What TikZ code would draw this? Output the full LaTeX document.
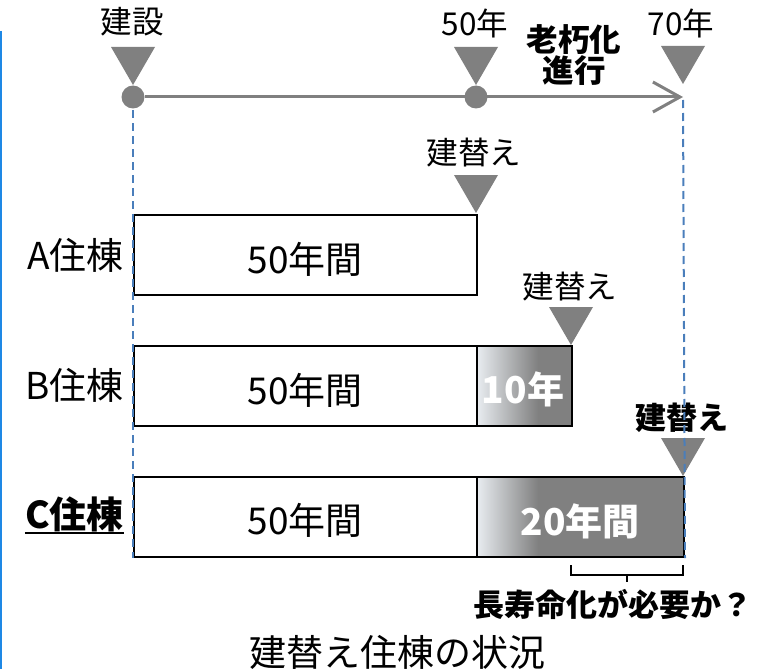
\documentclass[tikz,border=0pt]{standalone}
\usepackage{fontspec}
\setmainfont{Noto Sans CJK JP}
\usetikzlibrary{arrows.meta}
\definecolor{tgray}{RGB}{128,128,128}
\definecolor{gstart}{RGB}{234,238,242}
\definecolor{guide}{RGB}{74,126,187}
\definecolor{edgeblue}{RGB}{30,136,229}
\tikzset{
  lbl/.style={inner sep=0pt, font=\fontsize{31.5}{33}\selectfont},
  lblb/.style={inner sep=0pt, font=\fontsize{31}{33}\selectfont\bfseries},
  big/.style={inner sep=0pt, font=\fontsize{37}{40}\selectfont},
  bigb/.style={inner sep=0pt, font=\fontsize{37}{40}\selectfont\bfseries},
  box/.style={draw=black, line width=2pt, inner sep=0pt, anchor=north west},
  dot/.style={circle, fill=tgray, minimum size=23pt, inner sep=0pt},
  guideline/.style={draw=guide, line width=2pt, dash pattern=on 8pt off 5pt},
}
\newcommand{\downtri}[2]{\fill[tgray] (#1-22,#2-38) -- (#1+22,#2-38) -- (#1,#2) -- cycle;}
\begin{document}
\begin{tikzpicture}[x=1pt,y=-1pt]
\useasboundingbox (0,0) rectangle (769,669);
% left edge line
\coordinate (e0) at (1,31);
\coordinate (e1) at (1,669);
\draw[edgeblue, line width=2.5pt] (e0) -- (e1);

% timeline
\node[dot] (c0) at (133,97) {};
\node[dot] (c50) at (476,97) {};
\coordinate (tip) at (683,97);
\draw[tgray, line width=3pt, -{Straight Barb[length=27pt,width=30pt,line width=3pt]}] (c0) -- (tip);

\downtri{133}{85}
\downtri{476}{85}
\downtri{683}{84}
\node[lbl] (lBuild) at (132,22) {建設};
\node[lbl] (l50) at (475,23) {50年};
\node[lbl] (l70) at (681,23) {70年};
\node[lblb, align=center, font=\fontsize{31.5}{31.5}\selectfont\bfseries] (lAge) at (574,55) {老朽化\\進行};

% A
\node[box, minimum width=343pt, minimum height=80pt] (A) at (133,214) {};
\node[big] (At) at (305,259) {50年間};
\node[big, anchor=east] (Al) at (124,255) {A住棟};
\downtri{476}{213}
\node[lbl] (Ar) at (474,153) {建替え};

% B
\node[box, minimum width=343pt, minimum height=80pt] (B) at (133,345) {};
\shade[left color=gstart, right color=tgray] (476,345) rectangle (538,425);
\fill[tgray] (538,345) rectangle (571,425);
\node[box, minimum width=95pt, minimum height=80pt] (Bg) at (476,345) {};
\node[big] (Bt) at (305,390) {50年間};
\node[bigb, text=white] (Bgt) at (523,389) {10年};
\node[big, anchor=east] (Bl) at (124,385) {B住棟};
\downtri{571}{345}
\node[lbl] (Br) at (570,287) {建替え};

% C
\node[box, minimum width=343pt, minimum height=80pt] (C) at (133,476) {};
\shade[left color=gstart, right color=tgray] (476,476) rectangle (538,556);
\fill[tgray] (538,476) rectangle (683,556);
\node[box, minimum width=207pt, minimum height=80pt] (Cg) at (476,476) {};
\node[big] (Ct) at (305,520) {50年間};
\node[bigb, text=white] (Cgt) at (580,521) {20年間};
\node[bigb, anchor=east] (Cl) at (124,514) {C住棟};
\draw[line width=2pt] ([yshift=-1pt]Cl.south west) -- ([yshift=-1pt]Cl.south east);
\downtri{683}{476}
\node[lblb] (Cr) at (682,418) {建替え};

% guides
\coordinate (g0) at (133,110);
\coordinate (g1) at (683,100);
\draw[guideline] (g0) -- (C.south west);
\draw[guideline] (g1) -- (Cg.south east);

% bracket
\coordinate (bl) at (571,565);
\coordinate (br) at (683,565);
\coordinate (bm) at (627,575);
\coordinate (bm2) at (627,582);
\draw[line width=2pt] (bl) -- (571,575) -- (683,575) -- (br);
\draw[line width=2pt] (bm) -- (bm2);
\node[lblb] (q) at (613,604) {長寿命化が必要か？};

% caption
\node[big] (cap) at (397,652) {建替え住棟の状況};
\end{tikzpicture}
\end{document}
